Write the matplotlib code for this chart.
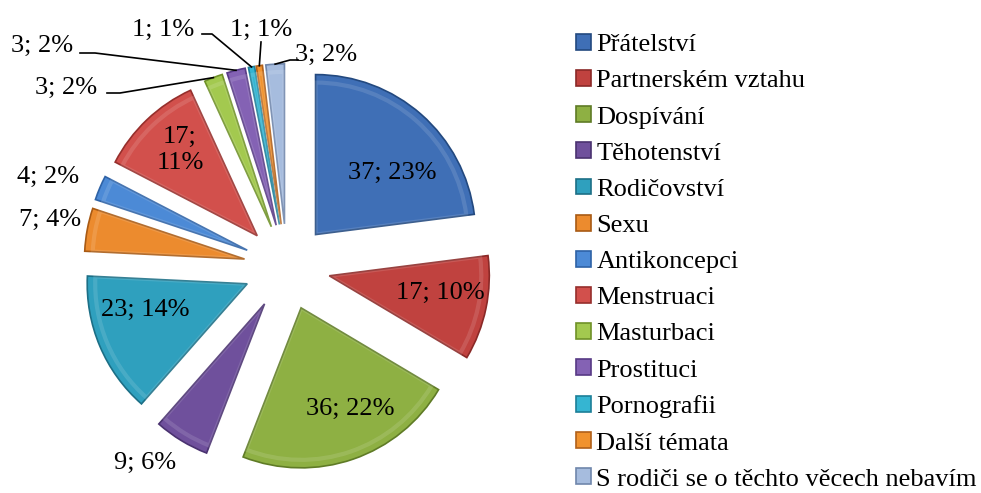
import matplotlib.pyplot as plt
import numpy as np

plt.rcParams['font.family'] = ['Liberation Serif', 'DejaVu Serif']

# data
topics = ["Přátelství", "Partnerském vztahu", "Dospívání", "Těhotenství",
          "Rodičovství", "Sexu", "Antikoncepci", "Menstruaci", "Masturbaci",
          "Prostituci", "Pornografii", "Další témata",
          "S rodiči se o těchto věcech nebavím"]
counts = [37, 17, 36, 9, 23, 7, 4, 17, 3, 3, 1, 1, 3]
percents = [23, 10, 22, 6, 14, 4, 2, 11, 2, 2, 1, 1, 2]

colors = ["#3F6FB6", "#C0423F", "#8EB043", "#6F509C", "#2FA0BE", "#EC8B2E",
          "#4C8AD6", "#D2504C", "#A3C94F", "#8462B4", "#35B5D2", "#F0922E",
          "#A6BCDE"]
edges = ["#23497F", "#8A2927", "#5F7B26", "#4A3270", "#1C6F86", "#A85A14",
         "#2E62A6", "#962F2C", "#6F9128", "#573A85", "#1C7F98", "#B0601A",
         "#6F86AB"]

W, H = 981, 493
CX, CY, R = 287, 267, 160  # pie centre / radius in pixels
FS = 19


def px(x, y):  # pixel position -> pie units
    return (x - CX) / R, (CY - y) / R


fig = plt.figure(figsize=(W / 100, H / 100), dpi=100)
ax = fig.add_axes([0, 0, 1, 1])

explode = [0.27] * len(counts)
wedges, _ = ax.pie(counts, explode=explode, colors=colors, startangle=90,
                   counterclock=False, radius=1, center=(0, 0),
                   wedgeprops=dict(linewidth=1.2))
for w, ec in zip(wedges, edges):
    w.set_edgecolor(ec)

# soft highlight inside each slice (rough bevel look)
hl, _ = ax.pie(counts, explode=explode, colors=colors, startangle=90,
               counterclock=False, radius=0.95, center=(0, 0),
               wedgeprops=dict(linewidth=0))
for w in hl:
    w.set_facecolor('none')
    w.set_edgecolor('white')
    w.set_alpha(0.12)
    w.set_linewidth(3)

ax.set_xlim(-CX / R, (W - CX) / R)
ax.set_ylim(-(H - CY) / R, CY / R)
ax.set_aspect('auto')
ax.axis('off')

# label text positions (pixels) and leader elbows
label_px = [(392, 173), (440, 293), (350, 409), (145, 463), (145, 310),
            (50, 220), (48, 177), (180, 150), (66, 88), (42, 46),
            (163, 30), (261, 30), (326, 55)]
leaders = {8: [(120, 93), (107, 93)],
           9: [(95, 53), (80, 53)],
           10: [(212, 34), (202, 34)],
           11: [(261, 42)],
           12: [(290, 60), (298, 60)]}

cum = np.cumsum([0] + counts) / sum(counts)
for i, (c, p) in enumerate(zip(counts, percents)):
    txt = f"{c}; {p}%"
    if i == 7:
        txt = f"{c};\n{p}%"
    x, y = px(*label_px[i])
    ax.text(x, y, txt, ha='center', va='center', fontsize=FS,
            color='black', linespacing=1.2)
    if i in leaders:
        mid = np.deg2rad(90 - 360 * (cum[i] + cum[i + 1]) / 2)
        tip = ((1 + explode[i]) * np.cos(mid), (1 + explode[i]) * np.sin(mid))
        pts = [tip] + [px(*q) for q in leaders[i]]
        ax.plot([q[0] for q in pts], [q[1] for q in pts], color='black',
                linewidth=1.2)

# legend
ax.legend(wedges, topics, loc='upper left',
          bbox_to_anchor=(576 / W, 1 - 34 / H), frameon=False,
          fontsize=FS, handlelength=0.55, handleheight=0.55,
          handletextpad=0.22, labelspacing=0.525, borderpad=0,
          borderaxespad=0)

plt.savefig('out.png', dpi=100)
